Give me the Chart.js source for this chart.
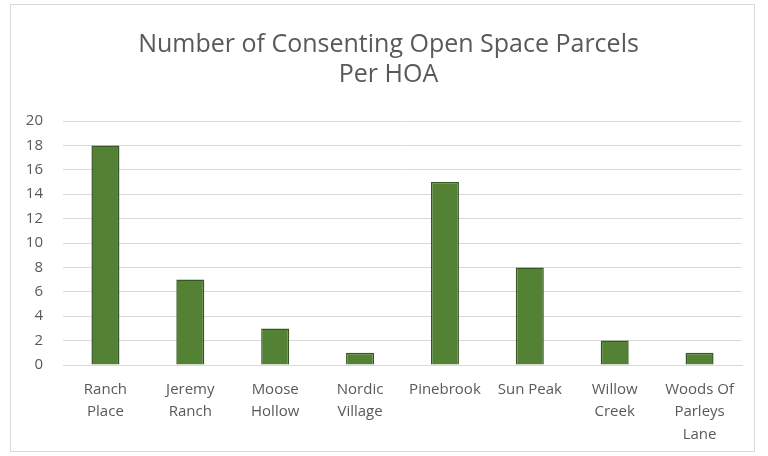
<!DOCTYPE html>
<html>
<head>
<meta charset="utf-8">
<script src="https://cdn.jsdelivr.net/npm/chart.js@4.4.0/dist/chart.umd.min.js"></script>
<style>
  body { margin: 0; background: #fff; }
  #caja { position: absolute; left: 10px; top: 4px; width: 745px; height: 448px; border: 1px solid #d9d9d9; box-sizing: border-box; }
</style>
</head>
<body>
<div id="caja"><canvas id="grafica"></canvas></div>
<script>
// datos del grafico
var hoas = [["Ranch", "Place"], ["Jeremy", "Ranch"], ["Moose", "Hollow"], ["Nordic", "Village"], "Pinebrook", "Sun Peak", ["Willow", "Creek"], ["Woods Of", "Parleys", "Lane"]];
var parcelas = [18, 7, 3, 1, 15, 8, 2, 1];
var titulo = ["Number of Consenting Open Space Parcels", "Per HOA"];

var fuente = "'Open Sans', 'Liberation Sans', sans-serif";

// el titulo va un poco a la derecha del centro
var moverTitulo = {
    id: "moverTitulo",
    afterLayout: function (chart) {
        if (chart.titleBlock) chart.titleBlock.left += 24;
    }
};

new Chart(document.getElementById("grafica"), {
    type: "bar",
    data: {
        labels: hoas,
        datasets: [{
            data: parcelas,
            backgroundColor: "#548235",
            borderColor: "#375623",
            borderWidth: 1.5,
            barPercentage: 0.33,
            categoryPercentage: 1
        }]
    },
    plugins: [moverTitulo],
    options: {
        responsive: true,
        maintainAspectRatio: false,
        animation: false,
        layout: { padding: { left: 0, right: 12, top: 25, bottom: 0 } },
        plugins: {
            legend: { display: false },
            tooltip: { enabled: false },
            title: {
                display: true,
                text: titulo,
                color: "#595959",
                font: { family: fuente, size: 25, weight: "normal", lineHeight: 1.2 },
                padding: { top: 0, bottom: 31 }
            }
        },
        scales: {
            x: {
                grid: { display: false },
                border: { color: "#d9d9d9" },
                ticks: { color: "#595959", font: { family: fuente, size: 15, lineHeight: 1.5 }, maxRotation: 0, autoSkip: false, padding: 5 },
                afterFit: function (s) { s.height = 86; }
            },
            y: {
                min: 0,
                max: 20,
                ticks: { stepSize: 2, color: "#595959", font: { family: fuente, size: 15 }, padding: 20 },
                grid: { color: "#d9d9d9", drawTicks: false },
                border: { display: false },
                afterFit: function (s) { s.width = 52; }
            }
        }
    }
});
</script>
</body>
</html>
